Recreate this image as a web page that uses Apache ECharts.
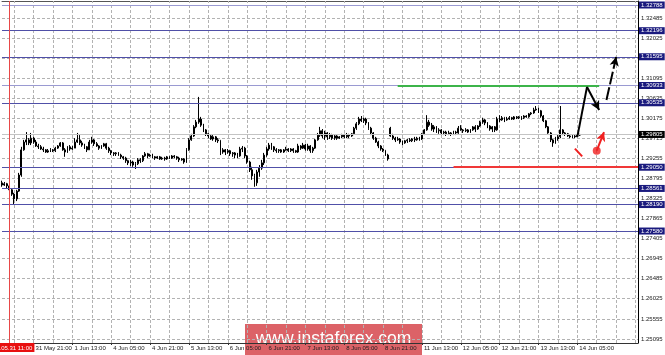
<!DOCTYPE html>
<html><head><meta charset="utf-8">
<script src="https://cdn.jsdelivr.net/npm/echarts@6/dist/echarts.min.js"></script>
<style>html,body{margin:0;padding:0;background:#fff}#c{width:665px;height:355px}</style>
</head><body><div id="c"></div>
<script>
// ---------- DATA ----------
// H1 bars: [open, close, low, high]
const bars = [
[1.2869,1.2864,1.2860,1.2874],[1.2864,1.2867,1.2862,1.2871],[1.2867,1.2862,1.2857,1.2869],[1.2862,1.2853,1.2850,1.2864],
[1.2853,1.2843,1.2839,1.2855],[1.2843,1.2832,1.2820,1.2846],[1.2832,1.2850,1.2827,1.2853],[1.2850,1.2887,1.2848,1.2892],
[1.2887,1.2945,1.2883,1.2952],[1.2945,1.2963,1.2943,1.2968],[1.2963,1.2968,1.2956,1.2986],[1.2968,1.2961,1.2956,1.2972],
[1.2961,1.2972,1.2956,1.2984],[1.2972,1.2963,1.2959,1.2975],[1.2963,1.2954,1.2952,1.2968],[1.2954,1.2952,1.2947,1.2959],
[1.2952,1.2947,1.2945,1.2956],[1.2947,1.2945,1.2940,1.2952],[1.2945,1.2940,1.2938,1.2947],[1.2940,1.2943,1.2938,1.2947],
[1.2943,1.2945,1.2940,1.2949],[1.2945,1.2943,1.2940,1.2947],[1.2943,1.2949,1.2940,1.2952],[1.2949,1.2954,1.2947,1.2956],
[1.2954,1.2961,1.2952,1.2963],[1.2961,1.2945,1.2943,1.2963],[1.2945,1.2940,1.2929,1.2949],[1.2940,1.2952,1.2938,1.2954],
[1.2952,1.2947,1.2943,1.2956],[1.2947,1.2949,1.2945,1.2954],[1.2949,1.2963,1.2949,1.2972],[1.2963,1.2968,1.2961,1.2984],
[1.2968,1.2961,1.2956,1.2979],[1.2961,1.2956,1.2952,1.2966],[1.2956,1.2952,1.2947,1.2959],[1.2952,1.2945,1.2940,1.2954],
[1.2945,1.2963,1.2945,1.2968],[1.2963,1.2968,1.2959,1.2975],[1.2968,1.2959,1.2954,1.2970],[1.2959,1.2954,1.2952,1.2963],
[1.2954,1.2949,1.2945,1.2956],[1.2949,1.2954,1.2947,1.2956],[1.2954,1.2959,1.2952,1.2961],[1.2959,1.2949,1.2945,1.2961],
[1.2949,1.2943,1.2938,1.2952],[1.2943,1.2938,1.2933,1.2945],[1.2938,1.2936,1.2931,1.2940],[1.2936,1.2938,1.2931,1.2940],
[1.2938,1.2933,1.2931,1.2940],[1.2933,1.2929,1.2924,1.2936],[1.2929,1.2926,1.2922,1.2931],[1.2926,1.2920,1.2915,1.2929],
[1.2920,1.2915,1.2910,1.2922],[1.2915,1.2917,1.2908,1.2922],[1.2917,1.2910,1.2906,1.2920],[1.2910,1.2913,1.2901,1.2917],
[1.2913,1.2922,1.2910,1.2926],[1.2922,1.2920,1.2915,1.2926],[1.2920,1.2931,1.2917,1.2933],[1.2931,1.2936,1.2929,1.2940],
[1.2936,1.2931,1.2926,1.2938],[1.2931,1.2933,1.2929,1.2936],[1.2933,1.2929,1.2926,1.2936],[1.2929,1.2926,1.2922,1.2931],
[1.2926,1.2929,1.2924,1.2931],[1.2929,1.2924,1.2922,1.2931],[1.2924,1.2926,1.2922,1.2929],[1.2926,1.2924,1.2920,1.2929],
[1.2924,1.2929,1.2922,1.2931],[1.2929,1.2926,1.2924,1.2931],[1.2926,1.2931,1.2924,1.2933],[1.2931,1.2929,1.2926,1.2933],
[1.2929,1.2926,1.2922,1.2931],[1.2926,1.2922,1.2917,1.2929],[1.2922,1.2924,1.2920,1.2926],[1.2924,1.2917,1.2913,1.2926],
[1.2917,1.2945,1.2915,1.2949],[1.2945,1.2968,1.2943,1.2972],[1.2968,1.2977,1.2966,1.2982],[1.2977,1.2998,1.2975,1.3002],
[1.2998,1.3009,1.2995,1.3014],[1.3009,1.3016,1.3005,1.3067],[1.3016,1.3002,1.2998,1.3021],[1.3002,1.2991,1.2986,1.3005],
[1.2991,1.2982,1.2977,1.2993],[1.2982,1.2977,1.2972,1.2984],[1.2977,1.2970,1.2968,1.2979],[1.2970,1.2975,1.2966,1.2979],
[1.2975,1.2968,1.2963,1.2977],[1.2968,1.2966,1.2961,1.2972],[1.2966,1.2940,1.2933,1.2968],[1.2940,1.2945,1.2936,1.2949],
[1.2945,1.2940,1.2933,1.2947],[1.2940,1.2943,1.2936,1.2947],[1.2943,1.2936,1.2931,1.2945],[1.2936,1.2938,1.2929,1.2940],
[1.2938,1.2933,1.2926,1.2940],[1.2933,1.2931,1.2926,1.2938],[1.2931,1.2947,1.2929,1.2952],[1.2947,1.2949,1.2940,1.2954],
[1.2949,1.2931,1.2926,1.2952],[1.2931,1.2917,1.2913,1.2933],[1.2917,1.2899,1.2894,1.2920],[1.2899,1.2885,1.2876,1.2906],
[1.2885,1.2869,1.2860,1.2890],[1.2869,1.2894,1.2862,1.2899],[1.2894,1.2903,1.2883,1.2910],[1.2903,1.2915,1.2899,1.2922],
[1.2915,1.2933,1.2910,1.2938],[1.2933,1.2947,1.2929,1.2952],[1.2947,1.2956,1.2943,1.2961],[1.2956,1.2952,1.2945,1.2961],
[1.2952,1.2945,1.2940,1.2954],[1.2945,1.2943,1.2938,1.2949],[1.2943,1.2945,1.2938,1.2947],[1.2945,1.2940,1.2938,1.2947],
[1.2940,1.2945,1.2938,1.2947],[1.2945,1.2947,1.2943,1.2952],[1.2947,1.2943,1.2940,1.2949],[1.2943,1.2947,1.2940,1.2949],
[1.2947,1.2943,1.2938,1.2949],[1.2943,1.2940,1.2938,1.2945],[1.2940,1.2954,1.2938,1.2959],[1.2954,1.2949,1.2945,1.2956],
[1.2949,1.2956,1.2947,1.2961],[1.2956,1.2947,1.2943,1.2959],[1.2947,1.2954,1.2943,1.2959],[1.2954,1.2943,1.2938,1.2956],
[1.2943,1.2949,1.2938,1.2952],[1.2949,1.2968,1.2947,1.2970],[1.2968,1.2979,1.2966,1.2984],[1.2979,1.2989,1.2975,1.2998],
[1.2989,1.2977,1.2972,1.2993],[1.2977,1.2984,1.2968,1.2989],[1.2984,1.2975,1.2968,1.2986],[1.2975,1.2979,1.2970,1.2984],
[1.2979,1.2972,1.2968,1.2982],[1.2972,1.2977,1.2968,1.2979],[1.2977,1.2972,1.2968,1.2979],[1.2972,1.2975,1.2970,1.2977],
[1.2975,1.2979,1.2972,1.2982],[1.2979,1.2975,1.2972,1.2982],[1.2975,1.2979,1.2972,1.2984],[1.2979,1.2977,1.2972,1.2982],
[1.2977,1.2982,1.2975,1.2984],[1.2982,1.2995,1.2979,1.2998],[1.2995,1.3005,1.2991,1.3009],[1.3005,1.3016,1.3002,1.3021],
[1.3016,1.3012,1.3009,1.3023],[1.3012,1.3016,1.3007,1.3019],[1.3016,1.3007,1.3002,1.3019],[1.3007,1.2995,1.2991,1.3009],
[1.2995,1.2984,1.2979,1.2998],[1.2984,1.2972,1.2968,1.2986],[1.2972,1.2963,1.2961,1.2975],[1.2963,1.2954,1.2949,1.2966],
[1.2954,1.2947,1.2943,1.2956],[1.2947,1.2943,1.2940,1.2949],[1.2943,1.2933,1.2931,1.2945],[1.2933,1.2924,1.2920,1.2936],
[1.2995,1.2977,1.2975,1.2998],[1.2977,1.2972,1.2968,1.2982],[1.2972,1.2968,1.2963,1.2975],[1.2968,1.2970,1.2966,1.2975],
[1.2970,1.2963,1.2959,1.2972],[1.2963,1.2961,1.2956,1.2966],[1.2961,1.2966,1.2959,1.2968],[1.2966,1.2968,1.2961,1.2970],
[1.2968,1.2966,1.2963,1.2972],[1.2966,1.2970,1.2963,1.2972],[1.2970,1.2968,1.2963,1.2975],[1.2968,1.2972,1.2966,1.2975],
[1.2972,1.2970,1.2966,1.2975],[1.2970,1.2982,1.2968,1.2984],[1.2982,1.2991,1.2979,1.2993],[1.2991,1.3009,1.2989,1.3025],
[1.3009,1.3002,1.2998,1.3014],[1.3002,1.2993,1.2989,1.3007],[1.2993,1.2998,1.2986,1.3002],[1.2998,1.2989,1.2984,1.3000],
[1.2989,1.2991,1.2982,1.2995],[1.2991,1.2984,1.2979,1.2993],[1.2984,1.2986,1.2979,1.2989],[1.2986,1.2982,1.2977,1.2989],
[1.2982,1.2984,1.2979,1.2989],[1.2984,1.2982,1.2977,1.2986],[1.2982,1.2986,1.2979,1.2989],[1.2986,1.2984,1.2979,1.2989],
[1.2984,1.2995,1.2982,1.3000],[1.2995,1.2991,1.2989,1.3002],[1.2991,1.2989,1.2984,1.2993],[1.2989,1.2991,1.2986,1.2995],
[1.2991,1.2986,1.2984,1.2993],[1.2986,1.2991,1.2984,1.2993],[1.2991,1.2998,1.2989,1.3000],[1.2998,1.2993,1.2986,1.3002],
[1.2993,1.3000,1.2991,1.3002],[1.3000,1.3009,1.2998,1.3012],[1.3009,1.3014,1.3005,1.3019],[1.3014,1.3007,1.3002,1.3016],
[1.3007,1.3000,1.2995,1.3009],[1.3000,1.2993,1.2989,1.3002],[1.2993,1.2998,1.2986,1.3000],[1.2998,1.2991,1.2986,1.3000],
[1.2991,1.3016,1.2989,1.3021],[1.3016,1.3014,1.3009,1.3025],[1.3014,1.3019,1.3012,1.3023],[1.3019,1.3014,1.3009,1.3021],
[1.3014,1.3016,1.3012,1.3021],[1.3016,1.3019,1.3014,1.3023],[1.3019,1.3016,1.3014,1.3021],[1.3016,1.3021,1.3014,1.3023],
[1.3021,1.3019,1.3016,1.3023],[1.3019,1.3021,1.3016,1.3023],[1.3021,1.3019,1.3014,1.3023],[1.3019,1.3023,1.3016,1.3025],
[1.3023,1.3021,1.3019,1.3025],[1.3021,1.3028,1.3019,1.3030],[1.3028,1.3030,1.3025,1.3032],[1.3030,1.3037,1.3028,1.3042],
[1.3037,1.3039,1.3035,1.3046],[1.3039,1.3035,1.3030,1.3042],[1.3035,1.3023,1.3019,1.3037],[1.3023,1.3012,1.3009,1.3025],
[1.3012,1.2998,1.2995,1.3014],[1.2998,1.2984,1.2982,1.3000],[1.2984,1.2968,1.2963,1.2986],[1.2968,1.2961,1.2952,1.2970],
[1.2961,1.2970,1.2959,1.2975],[1.2970,1.2975,1.2966,1.2979],[1.2975,1.2991,1.2972,1.3046],[1.2991,1.2984,1.2979,1.2993],
[1.2984,1.2982,1.2977,1.2986],[1.2982,1.2977,1.2975,1.2984],[1.2977,1.2975,1.2972,1.2979],[1.2975,1.2977,1.2972,1.2979],
[1.2977,1.2975,1.2972,1.2979],[1.2975,1.2979,1.2975,1.2984],[1.2979,1.29805,1.2977,1.2982]
];
const firstBarTime = '2018-05-31T08:00:00Z';
const slotCount = 263; // bars plus empty hours on the right
const gridEveryBars = 8;
const xTickLabels = ['31 May 21:00','1 Jun 13:00','4 Jun 05:00','4 Jun 21:00','5 Jun 13:00','6 Jun 05:00','6 Jun 21:00',
  '7 Jun 13:00','8 Jun 05:00','8 Jun 21:00','11 Jun 13:00','12 Jun 05:00','12 Jun 21:00','13 Jun 13:00','14 Jun 05:00'];
const separatorBar = '31 May 11:00';
const separatorLabel = '2018.05.31 11:00';
const priceTicks = ['1.32485','1.32025','1.31565','1.31095','1.30635','1.30175','1.29715','1.29255','1.28795',
  '1.28325','1.27865','1.27405','1.26945','1.26485','1.26025','1.25555','1.25095'];
const levelPrices = ['1.32788','1.32196','1.31595','1.30933','1.30535','1.29050','1.28561','1.28190','1.27580'];
const lightLevels = ['1.32788','1.30933'];
const bidPrice = '1.29805';
const greenSegment = [[163, 1.30933], [246, 1.30933]];
const redSegment = [[186, 1.29050], [262, 1.29050]];
const pathUp = [[237, 1.2975], [241, 1.3090]];
const pathDown = [[241, 1.3090], [246, 1.3037]];
const pathTarget = [[249, 1.3060], [253, 1.3159]];
const altDash = [[236, 1.2948], [239, 1.2930]];
const altDot = [245, 1.2943];
const altArrow = [[245, 1.2943], [248, 1.2986]];

// ---------- BUILD ----------
const MONTHS = ['Jan','Feb','Mar','Apr','May','Jun','Jul','Aug','Sep','Oct','Nov','Dec'];
const categories = [];
for (let t = Date.parse(firstBarTime); categories.length < slotCount; t += 3600000) {
  const d = new Date(t);
  const wd = d.getUTCDay();
  if (wd === 0 || wd === 6) continue;
  categories.push(d.getUTCDate() + ' ' + MONTHS[d.getUTCMonth()] + ' ' + String(d.getUTCHours()).padStart(2, '0') + ':00');
}
const firstTickIdx = categories.indexOf(xTickLabels[0]);
const gridCats = categories.filter((c, i) => (i - firstTickIdx) % gridEveryBars === 0);
const F = '"Liberation Sans", Arial, sans-serif';
const showTick = (i, v) => xTickLabels.indexOf(v) >= 0;
const seg = (pts, style, arrow) => [
  { coord: pts[0], symbol: 'none', lineStyle: style },
  { coord: pts[1], symbol: arrow ? 'arrow' : 'none' }
];
const gridStyle = { color: '#b2b2b2', type: [3, 2], width: 1, opacity: 1 };

const chart = echarts.init(document.getElementById('c'));
chart.setOption({
  animation: false,
  backgroundColor: '#fff',
  grid: { left: 2, right: 27, top: 1, bottom: 12 },
  xAxis: [{
    type: 'category', data: categories, boundaryGap: false, position: 'bottom',
    axisLine: { lineStyle: { color: '#333', width: 1 } },
    axisTick: { show: true, interval: showTick, length: 2, lineStyle: { color: '#333' } },
    axisLabel: { interval: showTick, align: 'left', padding: [0, 0, 0, 2], margin: 2, fontSize: 6, color: '#222', fontFamily: F },
    splitLine: { show: false }
  }, {
    type: 'category', data: categories, boundaryGap: false, position: 'top',
    axisLine: { lineStyle: { color: '#555', width: 1 } },
    axisTick: { show: false }, axisLabel: { show: false }, splitLine: { show: false }
  }],
  yAxis: {
    type: 'value', position: 'right', min: 1.2500, max: 1.3288, scale: true,
    axisLine: { show: true, lineStyle: { color: '#000', width: 1 } },
    axisTick: { show: false }, axisLabel: { show: false }, splitLine: { show: false }
  },
  series: [
    {
      name: 'grid', type: 'line', data: [], silent: true, z: 1,
      markLine: {
        silent: true, z: 1, symbol: 'none', animation: false, precision: 6,
        lineStyle: gridStyle,
        emphasis: { disabled: true },
        label: { position: 'end', distance: 3, color: '#222', fontSize: 6, fontFamily: F, formatter: '{b}' },
        data: priceTicks.map(t => ({ yAxis: Number(t), name: t, lineStyle: gridStyle }))
          .concat(gridCats.map(t => ({ xAxis: t, name: t, lineStyle: gridStyle, label: { show: false } })))
      }
    },
    {
      name: 'EURUSD', type: 'candlestick', data: bars, z: 2, barWidth: 1.4,
      itemStyle: { color: '#fff', color0: '#000', borderColor: '#000', borderColor0: '#000', borderWidth: 1 }
    },
    {
      name: 'levels', type: 'line', data: [], silent: true,
      markLine: {
        silent: true, z: 3, symbol: 'none', animation: false, precision: 6,
        lineStyle: { color: '#5050a8', type: 'solid', width: 1 },
        label: { position: 'end', distance: 1, color: '#fff', backgroundColor: '#1a1a7e', padding: [1, 2, 0, 2],
          fontSize: 6, fontFamily: F, formatter: '{b}' },
        data: levelPrices.map(t => ({ yAxis: Number(t), name: t,
          lineStyle: { color: lightLevels.indexOf(t) >= 0 ? '#9a9ad2' : '#5050a8' } }))
          .concat([
            { yAxis: Number(bidPrice), name: bidPrice, lineStyle: { color: '#c4c4c4' },
              label: { backgroundColor: '#000' } },
            { xAxis: separatorBar, name: separatorLabel, lineStyle: { color: '#e84848' },
              label: { position: 'start', distance: 0, backgroundColor: '#e81010', padding: [2, 2, 1, 2] } }
          ])
      }
    },
    {
      name: 'forecast', type: 'line', data: [], silent: true,
      markLine: {
        silent: true, z: 4, animation: false, symbolSize: [7, 9], precision: 6,
        label: { show: false },
        data: [
          seg(greenSegment, { color: '#3cb44a', width: 2, type: 'solid' }, false),
          seg(redSegment, { color: '#f03838', width: 2, type: 'solid' }, false),
          seg(pathUp, { color: '#000', width: 2, type: 'solid' }, false),
          seg(pathDown, { color: '#000', width: 2, type: 'solid' }, true),
          seg(pathTarget, { color: '#000', width: 2, type: [13, 3] }, true),
          seg(altDash, { color: '#f02020', width: 2, type: 'solid' }, false),
          seg(altArrow, { color: '#f02020', width: 2, type: 'solid' }, true)
        ]
      }
    },
    {
      name: 'dot', type: 'scatter', data: [altDot], z: 5, symbol: 'circle', symbolSize: 8, silent: true,
      itemStyle: { color: '#f02020' }
    }
  ],
  graphic: [{
    type: 'group', left: 245, top: 324, z: 100, silent: true,
    children: [
      { type: 'rect', shape: { x: 0, y: 0, width: 177, height: 31 }, style: { fill: 'rgba(214,72,78,0.86)' } },
      { type: 'text', style: { text: 'www.instaforex.com', x: 88.5, y: 15, align: 'center', verticalAlign: 'middle',
          fill: '#fff', font: '17.5px "Liberation Sans", Arial, sans-serif' } }
    ]
  }]
});
</script>
</body></html>
